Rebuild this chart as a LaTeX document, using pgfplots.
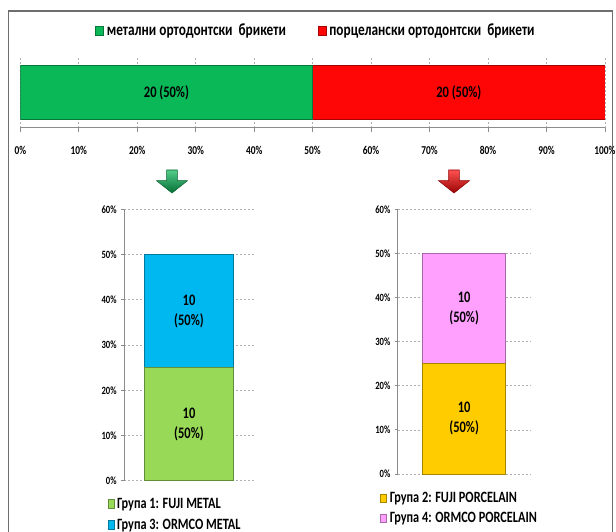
\documentclass[border=0pt]{standalone}
\usepackage{pgfplots}
\pgfplotsset{compat=1.18}
\usepackage{fontspec}
\setmainfont{Carlito}[FakeStretch=0.78]

\definecolor{metalgreen}{RGB}{10,184,88}
\definecolor{porcred}{RGB}{255,6,6}
\definecolor{fujimetal}{RGB}{152,218,88}
\definecolor{ormcometal}{RGB}{0,184,240}
\definecolor{fujiporc}{RGB}{255,204,0}
\definecolor{ormcoporc}{RGB}{255,160,255}
\definecolor{gridgray}{RGB}{175,175,175}
\definecolor{axisgray}{RGB}{140,140,140}
\definecolor{framegray}{RGB}{110,110,110}

\pgfplotsset{
  bevelbar/.style={fill=#1, draw=#1!65!black, line width=0.6pt},
  dashgrid/.style={gridgray, dash pattern=on 1.5pt off 1.5pt, line width=0.5pt},
}
\newcommand{\barlabelfont}{\bfseries\fontsize{12}{15}\selectfont}

\begin{document}
\begin{tikzpicture}
\path[use as bounding box] (0pt,0pt) rectangle (462pt,398.25pt);

% outer frame
\draw[framegray, line width=0.9pt] (6.225pt,-2pt) -- (6.225pt,390pt) -- (459.5pt,390pt) -- (459.5pt,-2pt);

% --- totals: metal vs porcelain brackets (20 + 20 of 40) ---
\begin{axis}[
  at={(15.225pt,302.475pt)}, anchor=south west,
  scale only axis, width=438.5pt, height=53pt,
  xbar stacked, bar width=40.5pt,
  xmin=0, xmax=40, ymin=-1, ymax=1,
  axis y line=none, axis x line*=bottom,
  x axis line style={axisgray, line width=0.6pt, -},
  xtick={0,4,...,40},
  xticklabels={0\%,10\%,20\%,30\%,40\%,50\%,60\%,70\%,80\%,90\%,100\%},
  xtick pos=bottom, tick align=outside, major tick length=3pt,
  tick style={axisgray, line width=0.6pt},
  xmajorgrids, grid style={dashgrid},
  xticklabel style={font=\bfseries\fontsize{9}{10}\selectfont, yshift=-7pt},
  legend style={draw=none, fill=none, at={(0.1278,1.372)}, anchor=west,
    legend columns=2, inner sep=0pt,
    font=\bfseries\fontsize{12.8}{14}\selectfont,
    /tikz/every even column/.append style={column sep=22pt}},
  legend cell align=left,
  legend image code/.code={\draw[#1] (0pt,-3.4pt) rectangle (6pt,3.4pt);},
]
\addplot[bevelbar=metalgreen] coordinates {(20,0)};
\addplot[bevelbar=porcred] coordinates {(20,0)};
\legend{метални ортодонтски\ \ брикети, порцелански ортодонтски\ \ брикети}
\coordinate (tA) at (axis cs:10,0);
\coordinate (tB) at (axis cs:30,0);
\end{axis}
\node[font=\barlabelfont] at (tA) {20 (50\%)};
\node[font=\barlabelfont] at (tB) {20 (50\%)};

% arrows leading to the two groups
\shade[top color=metalgreen!70!white, bottom color=metalgreen!60!black, draw=metalgreen!55!black, line width=0.4pt]
  (124.9pt,270.75pt) -- (133.1pt,270.75pt) -- (133.1pt,262.7pt) -- (140.6pt,262.7pt)
  -- (129pt,253.5pt) -- (117.4pt,262.7pt) -- (124.9pt,262.7pt) -- cycle;
\shade[top color=porcred!70!white, bottom color=porcred!60!black, draw=porcred!55!black, line width=0.4pt]
  (336.4pt,270.75pt) -- (344.6pt,270.75pt) -- (344.6pt,262.7pt) -- (352.1pt,262.7pt)
  -- (340.5pt,253.5pt) -- (328.9pt,262.7pt) -- (336.4pt,262.7pt) -- cycle;

% --- metal brackets: FUJI vs ORMCO ---
\begin{axis}[
  at={(93pt,37.725pt)}, anchor=south west,
  scale only axis, width=97.5pt, height=203.55pt,
  ybar stacked, bar width=66.5pt,
  xmin=0, xmax=1, ymin=0, ymax=24,
  axis x line=none, axis y line*=left,
  y axis line style={axisgray, line width=0.6pt, -},
  ytick={0,4,...,24},
  yticklabels={0\%,10\%,20\%,30\%,40\%,50\%,60\%},
  ytick pos=left, tick align=outside, major tick length=2pt,
  tick style={axisgray, line width=0.6pt},
  ymajorgrids, grid style={dashgrid},
  yticklabel style={font=\bfseries\fontsize{8.3}{9}\selectfont},
  legend style={draw=none, fill=none, at={(-0.128,-0.053)}, anchor=north west,
    legend columns=1, inner sep=0pt, row sep=2.5pt,
    font=\bfseries\fontsize{11.8}{13}\selectfont},
  legend cell align=left,
  legend image code/.code={\draw[#1] (0pt,-3.2pt) rectangle (4.5pt,3.2pt);},
]
\addplot[bevelbar=fujimetal] coordinates {(0.5,10)};
\addplot[bevelbar=ormcometal] coordinates {(0.5,10)};
\legend{Група 1: FUJI METAL, Група 3: ORMCO METAL}
\coordinate (mA) at (axis cs:0.5,5);
\coordinate (mB) at (axis cs:0.5,15);
\end{axis}
\node[font=\barlabelfont, align=center] at (mA) {10\\(50\%)};
\node[font=\barlabelfont, align=center] at (mB) {10\\(50\%)};

% --- porcelain brackets: FUJI vs ORMCO ---
\begin{axis}[
  at={(298.275pt,42.75pt)}, anchor=south west,
  scale only axis, width=99.75pt, height=198.5pt,
  ybar stacked, bar width=62.5pt,
  xmin=0, xmax=1, ymin=0, ymax=24,
  axis x line=none, axis y line*=left,
  y axis line style={axisgray, line width=0.6pt, -},
  ytick={0,4,...,24},
  yticklabels={0\%,10\%,20\%,30\%,40\%,50\%,60\%},
  ytick pos=left, tick align=outside, major tick length=2pt,
  tick style={axisgray, line width=0.6pt},
  ymajorgrids, grid style={dashgrid},
  yticklabel style={font=\bfseries\fontsize{8.3}{9}\selectfont},
  legend style={draw=none, fill=none, at={(-0.133,-0.057)}, anchor=north west,
    legend columns=1, inner sep=0pt, row sep=2pt,
    font=\bfseries\fontsize{11.8}{13}\selectfont},
  legend cell align=left,
  legend image code/.code={\draw[#1] (0pt,-3.2pt) rectangle (4.5pt,3.2pt);},
]
\addplot[bevelbar=fujiporc] coordinates {(0.5,10)};
\addplot[bevelbar=ormcoporc] coordinates {(0.5,10)};
\legend{Група 2: FUJI PORCELAIN, Група 4: ORMCO PORCELAIN}
\coordinate (pA) at (axis cs:0.5,5);
\coordinate (pB) at (axis cs:0.5,15);
\end{axis}
\node[font=\barlabelfont, align=center] at (pA) {10\\(50\%)};
\node[font=\barlabelfont, align=center] at (pB) {10\\(50\%)};
\end{tikzpicture}
\end{document}
